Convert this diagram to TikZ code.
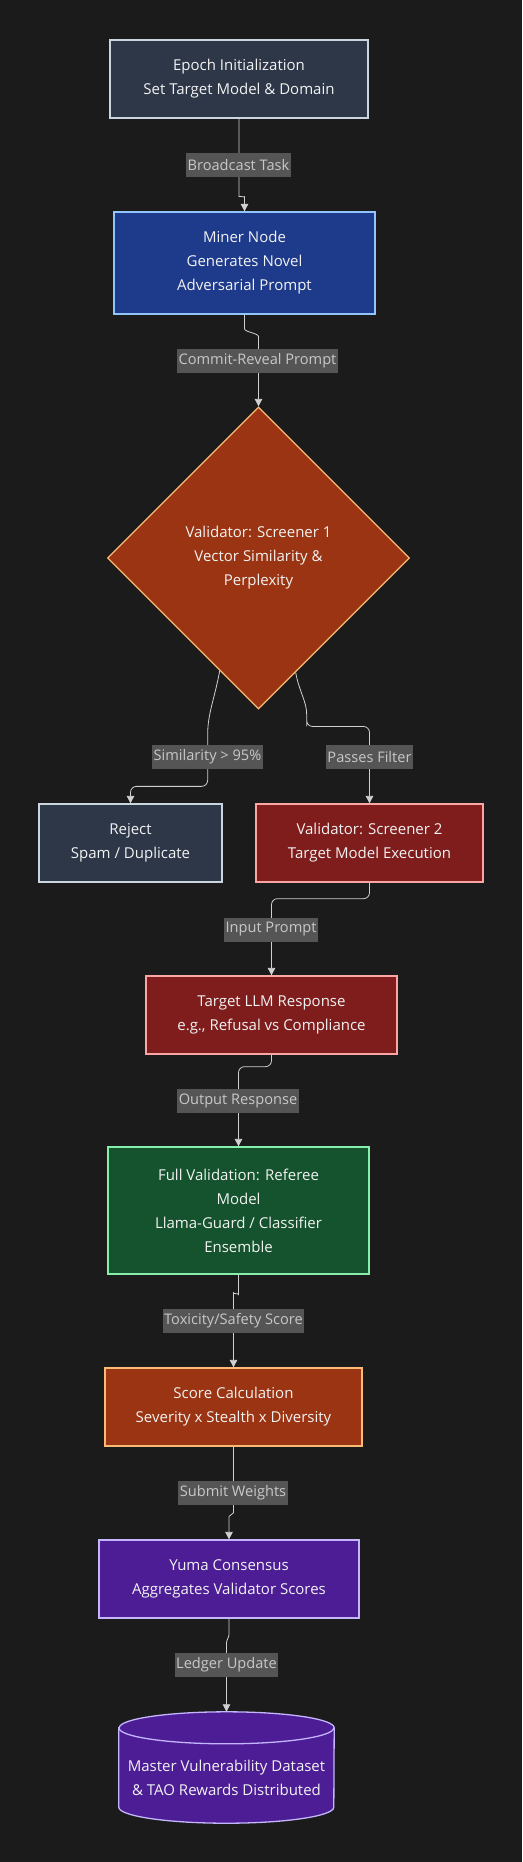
\documentclass[tikz,border=0pt]{standalone}
\usepackage{fontspec}
\setmainfont{Open Sans}
\usetikzlibrary{shapes.geometric}
\usetikzlibrary{arrows.meta}
\usepackage{xcolor}

\definecolor{canvas}{HTML}{1B1B1B}
\definecolor{slatefill}{HTML}{2D3748}
\definecolor{slateline}{HTML}{CBD5E0}
\definecolor{bluefill}{HTML}{1E3A8A}
\definecolor{blueline}{HTML}{93C5FD}
\definecolor{rustfill}{HTML}{9A3412}
\definecolor{rustline}{HTML}{FDBA74}
\definecolor{redfill}{HTML}{7F1D1D}
\definecolor{redline}{HTML}{FCA5A5}
\definecolor{greenfill}{HTML}{14532D}
\definecolor{greenline}{HTML}{86EFAC}
\definecolor{purplefill}{HTML}{4C1D95}
\definecolor{purpleline}{HTML}{C4B5FD}
\definecolor{nodetxt}{HTML}{F2F2F2}
\definecolor{lblfill}{HTML}{555555}
\definecolor{lbltxt}{HTML}{C8C8C8}
\definecolor{edgecol}{HTML}{D0D0D0}

\tikzset{
  stagebox/.style={draw, line width=1.3pt, inner sep=0pt, align=center,
    text=nodetxt, font=\fontsize{15}{24}\selectfont},
  elabel/.style={fill=lblfill, text=lbltxt, inner xsep=1.5pt, inner ysep=0pt,
    minimum height=24pt, font=\fontsize{14.6}{24}\selectfont},
  flow/.style={draw=edgecol, line width=0.8pt, rounded corners=6pt,
    -{Triangle[length=7.5pt,width=7.5pt]}},
}

\begin{document}
\begin{tikzpicture}[x=1pt,y=1pt]
            \useasboundingbox (0,0) rectangle (522,-1862);
            \fill[canvas] (0,0) rectangle (522,-1862);

            % stages
            \node[stagebox, fill=slatefill, draw=slateline, minimum width=258pt, minimum height=78pt]
                (epoch) at (239,-79) {Epoch Initialization\\Set Target Model \& Domain};
            \node[stagebox, fill=bluefill, draw=blueline, minimum width=261pt, minimum height=102pt]
                (miner) at (244.5,-263) {Miner Node\\Generates Novel\\Adversarial Prompt};
            \node[stagebox, diamond, aspect=1, fill=rustfill, draw=rustline, minimum width=302pt, minimum height=302pt]
                (screenA) at (258.5,-558) {Validator: Screener 1\\Vector Similarity \&\\Perplexity};
            \node[stagebox, fill=slatefill, draw=slateline, minimum width=183pt, minimum height=78pt]
                (reject) at (130.5,-843) {Reject\\Spam / Duplicate};
            \node[stagebox, fill=redfill, draw=redline, minimum width=227pt, minimum height=78pt]
                (screenB) at (369.5,-843) {Validator: Screener 2\\Target Model Execution};
            \node[stagebox, fill=redfill, draw=redline, minimum width=251pt, minimum height=78pt]
                (target) at (271.5,-1015) {Target LLM Response\\e.g., Refusal vs Compliance};
            \node[stagebox, fill=greenfill, draw=greenline, minimum width=261pt, minimum height=127pt]
                (referee) at (238.5,-1210.5) {Full Validation: Referee\\Model\\Llama-Guard / Classifier\\Ensemble};
            \node[stagebox, fill=rustfill, draw=rustline, minimum width=257pt, minimum height=78pt]
                (score) at (233.5,-1407) {Score Calculation\\Severity x Stealth x Diversity};
            \node[stagebox, fill=purplefill, draw=purpleline, minimum width=260pt, minimum height=78pt]
                (yuma) at (229,-1579) {Yuma Consensus\\Aggregates Validator Scores};

            % ledger cylinder
            \node[inner sep=0pt, minimum width=215pt, minimum height=111pt] (vault) at (226.5,-1767.5) {};
            \path[fill=purplefill, draw=purpleline, line width=1.3pt]
                (vault.north west) ++(0,-16) -- ([yshift=16pt]vault.south west)
                arc[start angle=180, end angle=360, x radius=107.5pt, y radius=16pt]
                -- ([yshift=-16pt]vault.north east)
                arc[start angle=0, end angle=180, x radius=107.5pt, y radius=16pt] -- cycle;
            \draw[purpleline, line width=1.3pt] ([yshift=-16pt]vault.north west)
                arc[start angle=180, end angle=360, x radius=107.5pt, y radius=16pt];
            \node[stagebox, draw=none] (vaulttext) at (226.5,-1778)
                {Master Vulnerability Dataset\\\& TAO Rewards Distributed};

            % connectors
            \draw[flow] (epoch.south) -- ++(0,-72) to[out=-90,in=90] ++(5.5,-12) -- (miner.north);
            \draw[flow] (miner.south) -- ++(0,-8) to[out=-90,in=90] ++(14,-20) -- (screenA.north);
            \draw[flow] (screenA.251.5) to[out=-100,in=90] ++(-12,-70) |- ([yshift=17pt]reject.north) -- (reject.north);
            \draw[flow] (screenA.288.5) to[out=-80,in=90] ++(11,-48) -- ++(0,-6) -| (screenB.north);
            \draw[flow] (screenB.south) -- ++(0,-16) -| (target.north);
            \draw[flow] (target.south) -- ++(0,-12) -| (referee.north);
            \draw[flow] (referee.south) -- ++(0,-14) to[out=-90,in=90] ++(-5,-10) -- (score.north);
            \draw[flow] (score.south) -- ++(0,-60) to[out=-90,in=90] ++(-4.5,-16) -- (yuma.north);
            \draw[flow] (yuma.south) -- ++(0,-10) to[out=-90,in=90] ++(-2.5,-20) -- (vault.north);

            % connector labels
            \node[elabel] (lbBroadcast) at (238.5,-165) {Broadcast Task};
            \node[elabel] (lbCommit) at (257.5,-361) {Commit-Reveal Prompt};
            \node[elabel] (lbSimilar) at (207.5,-757) {Similarity > 95\%};
            \node[elabel] (lbPasses) at (369.5,-757) {Passes Filter};
            \node[elabel] (lbInput) at (271,-929.5) {Input Prompt};
            \node[elabel] (lbOutput) at (238,-1101) {Output Response};
            \node[elabel] (lbToxic) at (233.5,-1321) {Toxicity/Safety Score};
            \node[elabel] (lbSubmit) at (233,-1492.5) {Submit Weights};
            \node[elabel] (lbLedger) at (226.5,-1665) {Ledger Update};
\end{tikzpicture}
\end{document}
